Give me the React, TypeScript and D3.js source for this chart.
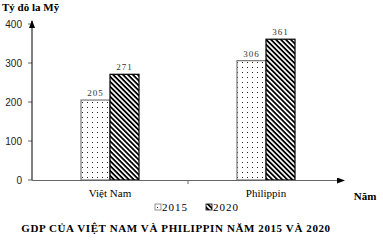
import React from "react";
import * as d3 from "d3";

const categories = ["Việt Nam", "Philippin"];
const seriesNames = ["2015", "2020"];
const values2015 = [205, 306];
const values2020 = [271, 361];
const yTicks = [0, 100, 200, 300, 400];

export default function App() {
  const W = 383, H = 243;
  const x0 = 32, x1 = 344, yTop = 24, yBottom = 180;
  const x = d3.scaleBand<string>().domain(categories).range([x0, x1]);
  const y = d3.scaleLinear().domain([0, 400]).range([yBottom, yTop]);
  const barW = 29;
  const series = [values2015, values2020];
  const fills = ["url(#dots)", "url(#hatch)"];
  const strokes = ["#777", "#000"];
  return (
    <div style={{ position: "absolute", left: 0, top: 0 }}>
      <svg width={W} height={H} style={{ display: "block", background: "#fff" }}>
        <defs>
          <pattern id="dots" patternUnits="userSpaceOnUse" width={5} height={5}>
            <rect width={5} height={5} fill="#fff" />
            <rect x={2} y={2} width={1} height={1} fill="#222" />
          </pattern>
          <pattern id="hatch" patternUnits="userSpaceOnUse" width={3.5} height={3.5} patternTransform="rotate(45)">
            <rect width={3.5} height={3.5} fill="#fff" />
            <rect x={0} y={0} width={3.5} height={1.8} fill="#000" />
          </pattern>
          <marker id="arr" markerWidth={8} markerHeight={6} refX={7} refY={3} orient="auto" markerUnits="userSpaceOnUse">
            <path d="M0,0 L8,3 L0,6 Z" fill="#000" />
          </marker>
        </defs>
        <text x={2} y={11} fontFamily="Liberation Serif" fontWeight="bold" fontSize={11}>Tỷ đô la Mỹ</text>
        {yTicks.map((t) => (
          <g key={t}>
            <line x1={28} x2={x0} y1={y(t)} y2={y(t)} stroke="#666" strokeWidth={1} />
            <text x={22} y={y(t) + 3.5} textAnchor="end" fontFamily="Liberation Sans" fontSize={10} fill="#222">{t}</text>
          </g>
        ))}
        {categories.map((c, i) =>
          series.map((vals, s) => {
            const cx = x(c)! + x.bandwidth() / 2;
            const bx = cx - barW + s * barW;
            return (
              <g key={c + s}>
                <rect x={bx} y={y(vals[i])} width={barW} height={yBottom - y(vals[i])} fill={fills[s]} stroke={strokes[s]} strokeWidth={1.2} />
                <text x={bx + barW / 2} y={y(vals[i]) - 4} textAnchor="middle" fontFamily="Liberation Serif" fontSize={9} letterSpacing={1} fill="#333">{vals[i]}</text>
              </g>
            );
          })
        )}
        <line x1={x0} x2={x0} y1={yBottom} y2={yTop - 3} stroke="#000" strokeWidth={1} markerEnd="url(#arr)" />
        <line x1={x0} x2={x1} y1={yBottom + 0.5} y2={yBottom + 0.5} stroke="#666" strokeWidth={1} markerEnd="url(#arr)" />
        <line x1={x(categories[1])!} x2={x(categories[1])!} y1={yBottom} y2={yBottom + 4} stroke="#666" />
        {categories.map((c) => (
          <text key={c} x={x(c)! + x.bandwidth() / 2} y={197} textAnchor="middle" fontFamily="Liberation Serif" fontSize={11}>{c}</text>
        ))}
        <text x={365} y={200} textAnchor="middle" fontFamily="Liberation Serif" fontWeight="bold" fontSize={11}>Năm</text>
        {seriesNames.map((n, i) => (
          <g key={n}>
            <rect x={155 + i * 51} y={204} width={6} height={6} fill={fills[i]} stroke={strokes[i]} strokeWidth={0.8} />
            <text x={162 + i * 51} y={211} fontFamily="Liberation Serif" fontSize={11} letterSpacing={1}>{n}</text>
          </g>
        ))}
        <text x={176} y={232} textAnchor="middle" fontFamily="Liberation Serif" fontWeight="bold" fontSize={11} letterSpacing={0.6}>GDP CỦA  VIỆT NAM VÀ PHILIPPIN  NĂM 2015 VÀ 2020</text>
      </svg>
    </div>
  );
}
